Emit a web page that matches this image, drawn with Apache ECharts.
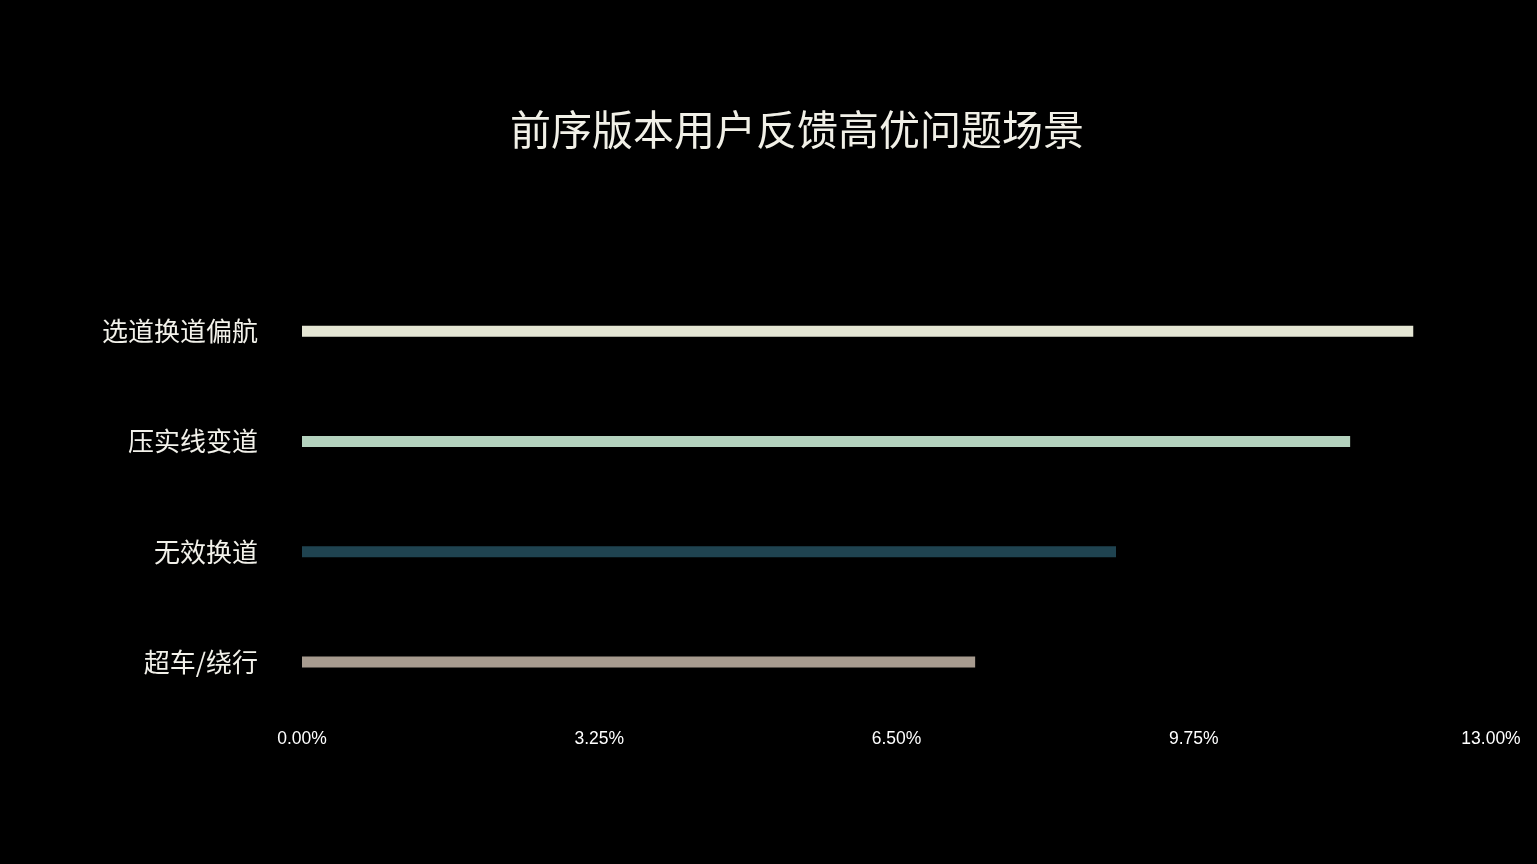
<!DOCTYPE html>
<html>
<head>
<meta charset="utf-8">
<script src="https://cdn.jsdelivr.net/npm/echarts@6/dist/echarts.min.js"></script>
<style>
html,body{margin:0;padding:0;background:#000;}
#c{width:1537px;height:864px;}
</style>
</head>
<body>
<div id="c"></div>
<script>
const titleText = '前序版本用户反馈高优问题场景';
const categories = ['超车/绕行', '无效换道', '压实线变道', '选道换道偏航'];
const values = [7.36, 8.90, 11.46, 12.15];
const barColors = ['#a79b8f', '#1f4350', '#b4d2be', '#e5e6d4'];
const tickMax = 13;
const tickStep = 3.25;

const chart = echarts.init(document.getElementById('c'));
chart.setOption({
  backgroundColor: '#000000',
  animation: false,
  graphic: [{
    type: 'text',
    x: 797,
    y: 129,
    style: {
      text: titleText,
      fill: '#f1f0e7',
      font: 'normal 41px "Noto Sans CJK SC"',
      textAlign: 'center',
      textVerticalAlign: 'middle'
    }
  }],
  grid: { left: 302, right: 46, top: 276, bottom: 147, containLabel: false },
  xAxis: {
    type: 'value',
    min: 0,
    max: tickMax,
    interval: tickStep,
    axisLine: { show: false },
    axisTick: { show: false },
    splitLine: { show: false },
    axisLabel: {
      color: '#ffffff',
      fontSize: 17.5,
      fontFamily: 'Liberation Sans',
      margin: 13,
      formatter: v => v.toFixed(2) + '%'
    }
  },
  yAxis: {
    type: 'category',
    data: categories,
    axisLine: { show: false },
    axisTick: { show: false },
    splitLine: { show: false },
    axisLabel: {
      color: '#f2f1ea',
      fontSize: 26,
      fontWeight: 'normal',
      fontFamily: 'Noto Sans CJK SC',
      margin: 44
    }
  },
  series: [{
    type: 'bar',
    data: values.map((v, i) => ({ value: v, itemStyle: { color: barColors[i] } })),
    barWidth: 11
  }]
});
</script>
</body>
</html>
